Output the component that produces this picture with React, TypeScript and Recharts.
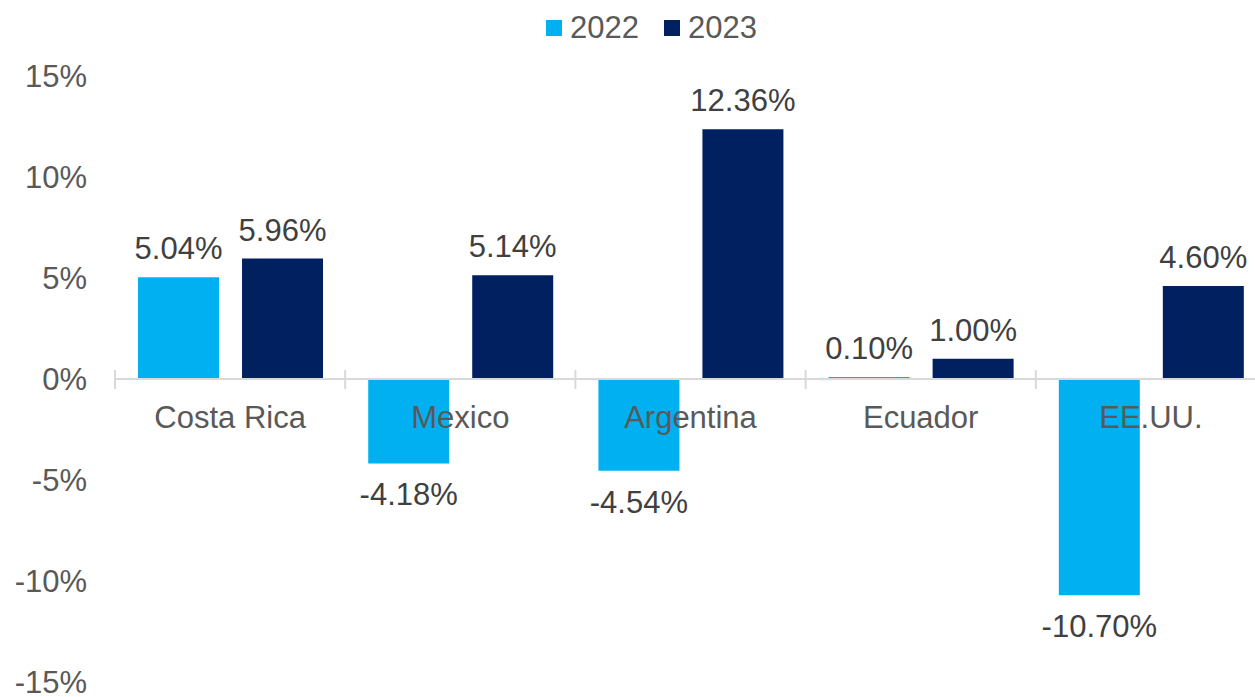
import { Bar, BarChart, LabelList, Legend, ReferenceLine, XAxis, YAxis } from "recharts";

const categories = ["Costa Rica", "Mexico", "Argentina", "Ecuador", "EE.UU."];
const values2022 = [5.04, -4.18, -4.54, 0.1, -10.7];
const values2023 = [5.96, 5.14, 12.36, 1.0, 4.6];
const yTicks = [-15, -10, -5, 0, 5, 10, 15];
const seriesNames = ["2022", "2023"];
const seriesColors = ["#00B0F0", "#002060"];

const data = categories.map((name, i) => ({ name, y2022: values2022[i], y2023: values2023[i] }));

const FONT = "'Liberation Sans', Arial, sans-serif";
const AXIS_TEXT = "#595959";
const LABEL_TEXT = "#404040";
const CHART_W = 1266;
const CHART_H = 697;
const MARGIN = { top: 8, right: 0, bottom: 14, left: 0 };
const LEGEND_H = 68;
const X_AXIS_H = 1;
const PLOT_H = CHART_H - MARGIN.top - LEGEND_H - MARGIN.bottom - X_AXIS_H;

// category labels and separators sit on the zero line, which is the middle of a symmetric domain
function CategoryTick(props: any) {
  const { x, y, payload } = props;
  const zeroY = y - PLOT_H / 2;
  const half = payload?.offset || 115;
  return (
    <g>
      <line x1={x - half} x2={x - half} y1={zeroY - 9} y2={zeroY + 10} stroke="#d9d9d9" strokeWidth={2} />
      <text x={x} y={zeroY + 49} textAnchor="middle" fill={AXIS_TEXT} fontSize={31} fontFamily={FONT}>
        {payload.value}
      </text>
    </g>
  );
}

function renderValueLabel(props: any) {
  const { x, y, width, height, value } = props;
  const v = Number(value);
  const top = Math.min(y, y + height);
  const bottom = Math.max(y, y + height);
  const ty = v >= 0 ? top - 18 : bottom + 42;
  return (
    <text x={x + width / 2} y={ty} textAnchor="middle" fill={LABEL_TEXT} fontSize={31} fontFamily={FONT}>
      {`${v.toFixed(2)}%`}
    </text>
  );
}

function LegendContent() {
  return (
    <div
      style={{
        height: LEGEND_H,
        width: CHART_W,
        boxSizing: "border-box",
        paddingTop: 4,
        paddingLeft: 37,
        display: "flex",
        justifyContent: "center",
        alignItems: "flex-start",
        fontFamily: FONT,
        fontSize: 31,
        lineHeight: "31px",
        color: AXIS_TEXT,
      }}
    >
      {seriesNames.map((name, i) => (
        <div key={name} style={{ display: "flex", alignItems: "center", marginLeft: i ? 25 : 0 }}>
          <span style={{ width: 16, height: 16, background: seriesColors[i], marginRight: 8, display: "inline-block" }} />
          <span>{name}</span>
        </div>
      ))}
    </div>
  );
}

export default function App() {
  return (
    <div style={{ position: "absolute", left: 0, top: 0, width: 1255, height: 697, overflow: "hidden", background: "#fff" }}>
      <BarChart width={CHART_W} height={CHART_H} data={data} margin={MARGIN} barCategoryGap="10%" barGap={23}>
        <Legend verticalAlign="top" align="left" wrapperStyle={{ left: 0 }} content={<LegendContent />} />
        <YAxis
          width={115}
          domain={[-15, 15]}
          ticks={yTicks}
          interval={0}
          tickFormatter={(v) => `${v}%`}
          axisLine={false}
          tickLine={false}
          tickSize={0}
          tickMargin={28}
          tick={{ fill: AXIS_TEXT, fontSize: 31, fontFamily: FONT }}
        />
        <XAxis
          dataKey="name"
          height={X_AXIS_H}
          axisLine={false}
          tickLine={false}
          tickSize={0}
          tickMargin={0}
          interval={0}
          tick={(p: any) => <CategoryTick {...p} />}
        />
        <ReferenceLine y={0} stroke="#d9d9d9" strokeWidth={2} />
        <Bar dataKey="y2022" name="2022" fill={seriesColors[0]} isAnimationActive={false}>
          <LabelList dataKey="y2022" content={renderValueLabel} />
        </Bar>
        <Bar dataKey="y2023" name="2023" fill={seriesColors[1]} isAnimationActive={false}>
          <LabelList dataKey="y2023" content={renderValueLabel} />
        </Bar>
      </BarChart>
    </div>
  );
}
